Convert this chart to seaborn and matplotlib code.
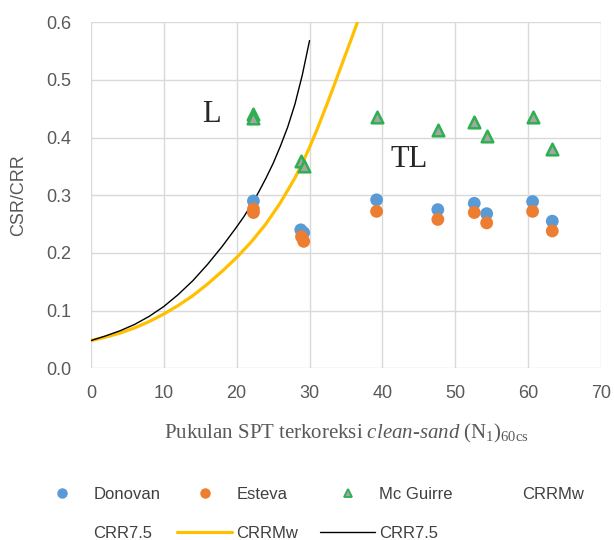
import matplotlib
matplotlib.use("Agg")
import matplotlib.pyplot as plt
from matplotlib.lines import Line2D
import pandas as pd
import seaborn as sns

# titik data (N1)60cs vs CSR
n_donovan = [22.3, 28.8, 29.2, 39.2, 47.6, 52.6, 54.3, 60.6, 63.3]
csr_donovan = [0.290, 0.240, 0.235, 0.292, 0.275, 0.286, 0.268, 0.289, 0.255]

n_esteva = [22.3, 22.3, 28.9, 29.2, 39.2, 47.6, 52.6, 54.3, 60.6, 63.3]
csr_esteva = [0.276, 0.270, 0.228, 0.220, 0.272, 0.258, 0.270, 0.252, 0.272, 0.238]

n_mcguire = [22.3, 22.3, 28.8, 29.3, 39.2, 47.6, 52.6, 54.3, 60.6, 63.3]
csr_mcguire = [0.440, 0.434, 0.360, 0.350, 0.435, 0.413, 0.427, 0.403, 0.435, 0.380]

# kurva CRR
n_crr75 = [0, 2, 4, 6, 8, 10, 12, 14, 16, 18, 20, 21, 22, 23, 24, 25, 26, 27, 28, 29, 30]
crr75 = [0.048, 0.056, 0.065, 0.076, 0.090, 0.107, 0.128, 0.152, 0.180, 0.211,
         0.245, 0.263, 0.283, 0.305, 0.329, 0.355, 0.385, 0.418, 0.458, 0.508, 0.568]

n_crrmw = [0, 2, 4, 6, 8, 10, 12, 14, 16, 18, 20, 22, 24, 26, 28, 29, 30,
           31, 32, 33, 34, 35, 36, 37, 38]
crrmw = [0.048, 0.054, 0.061, 0.070, 0.081, 0.094, 0.109, 0.126, 0.146, 0.168,
         0.192, 0.219, 0.250, 0.287, 0.330, 0.355, 0.383, 0.413, 0.445, 0.478,
         0.512, 0.546, 0.580, 0.615, 0.652]

sns.set_theme(style="whitegrid")
plt.rcParams["font.family"] = ["Liberation Sans", "DejaVu Sans"]
plt.rcParams["mathtext.fontset"] = "custom"
plt.rcParams["mathtext.rm"] = "Liberation Serif"
plt.rcParams["mathtext.it"] = "Liberation Serif:italic"

df_don = pd.DataFrame({"N": n_donovan, "CSR": csr_donovan})
df_est = pd.DataFrame({"N": n_esteva, "CSR": csr_esteva})
df_mcg = pd.DataFrame({"N": n_mcguire, "CSR": csr_mcguire})
df_75 = pd.DataFrame({"N": n_crr75, "CRR": crr75})
df_mw = pd.DataFrame({"N": n_crrmw, "CRR": crrmw})

fig = plt.figure(figsize=(6.14, 5.4), dpi=100)
ax = fig.add_axes([0.148, 0.318, 0.831, 0.641])

sns.lineplot(data=df_mw, x="N", y="CRR", ax=ax, color="#ffc000", linewidth=2.3)
sns.lineplot(data=df_75, x="N", y="CRR", ax=ax, color="black", linewidth=1.0)

sns.scatterplot(data=df_don, x="N", y="CSR", ax=ax, color="#5b9bd5", s=85,
                edgecolor="none", zorder=3)
sns.scatterplot(data=df_est, x="N", y="CSR", ax=ax, color="#ed7d31", s=85,
                edgecolor="none", zorder=3)
sns.scatterplot(data=df_mcg, x="N", y="CSR", ax=ax, marker="^", color="#a5a5a5",
                s=70, edgecolor="#2eb050", linewidth=1.8, zorder=4)

ax.set_xlim(0, 70)
ax.set_ylim(0, 0.6)
ax.set_xticks(range(0, 71, 10))
ax.set_yticks([i / 10 for i in range(7)])
ax.set_yticklabels([f"{i / 10:.1f}" for i in range(7)])
ax.grid(True, color="#d9d9d9", linewidth=1.0)
for sp in ax.spines.values():
    sp.set_visible(False)
ax.tick_params(axis="both", labelsize=13, colors="#595959", length=0)
ax.tick_params(axis="y", pad=14)
ax.tick_params(axis="x", pad=12)

ax.set_ylabel("CSR/CRR", fontsize=13, color="#595959")
ax.yaxis.set_label_coords(-0.125, 0.5)
ax.set_xlabel(r"$\mathrm{Pukulan\ SPT\ terkoreksi\ }\mathit{clean\text{-}sand}\mathrm{\ (N_1)_{60cs}}$",
              fontsize=15, color="#595959")
ax.xaxis.set_label_coords(0.5, -0.155)

ax.text(16.5, 0.44, "L", fontsize=22, family="Liberation Serif", ha="center", va="center")
ax.text(43.7, 0.362, "TL", fontsize=22, family="Liberation Serif", ha="center", va="center")

h_don = Line2D([], [], linestyle="none", marker="o", color="#5b9bd5", markersize=6.5)
h_est = Line2D([], [], linestyle="none", marker="o", color="#ed7d31", markersize=6.5)
h_mcg = Line2D([], [], linestyle="none", marker="^", markerfacecolor="#a5a5a5",
               markeredgecolor="#2eb050", markersize=5.5, markeredgewidth=1.3)
h_none = Line2D([], [], linestyle="none")
h_mw = Line2D([], [], color="#ffc000", linewidth=2.3)
h_75 = Line2D([], [], color="black", linewidth=1.0)

# legend ala Excel: kolom dengan lebar tetap
legend_cols = [
    ([h_don, h_none], ["Donovan", "CRR7.5"]),
    ([h_est, h_mw], ["Esteva", "CRRMw"]),
    ([h_mcg, h_75], ["Mc Guirre", "CRR7.5"]),
    ([h_none], ["CRRMw"]),
]
for k, (hs, ls) in enumerate(legend_cols):
    x0 = (34 + 143 * k) / 614
    fig.legend(hs, ls, loc="upper left", bbox_to_anchor=(x0, 0.099),
               frameon=False, fontsize=12, handlelength=3.3, handletextpad=0.25,
               labelspacing=1.45, borderpad=0, borderaxespad=0, labelcolor="#404040")

fig.savefig("out.png", dpi=100)
